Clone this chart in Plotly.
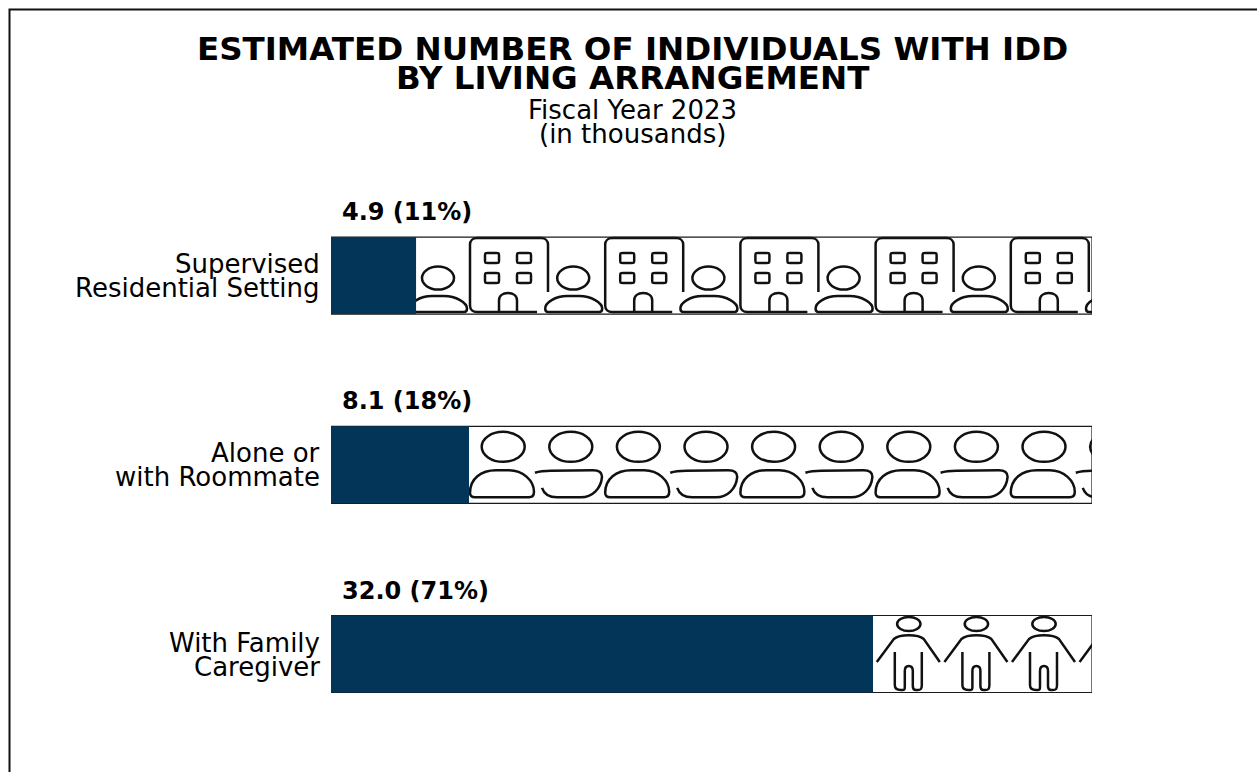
from plotly import graph_objects as go

# values in thousands, fiscal year 2023
CATEGORIES = ["Supervised Residential Setting", "Alone or with Roommate", "With Family Caregiver"]
LABEL_LINES = [["Supervised", "Residential Setting"], ["Alone or", "with Roommate"], ["With Family", "Caregiver"]]
VALUES = [4.9, 8.1, 32.0]
PERCENTS = [11, 18, 71]
# filled lengths as they measure on the picture, the printed labels are rounded
FILLED = [5.03, 8.16, 32.05]
TOTAL = 45.0

TITLE_LINES = ["ESTIMATED NUMBER OF INDIVIDUALS WITH IDD", "BY LIVING ARRANGEMENT"]
SUBTITLE_LINES = ["Fiscal Year 2023", "(in thousands)"]

WIDTH, HEIGHT = 1257, 772
NAVY = "#023558"
FONT = "DejaVu Sans"
PERIOD = 135.2
STROKE = dict(color="#111111", width=2.5)


# icon outlines, pixels right of the bar start and below the bar centre
BUILDING = "M217 16.5 L217 -31 C217 -35 214 -37.5 210 -37.5 L146 -37.5 C142 -37.5 139 -35 139 -31 L139 30 C139 34 142 36.5 146 36.5 L206 36.5"
DOOR = "M168 36.5 L168 25 C168 20 172 17.5 177 17.5 C182 17.5 186 20 186 25 L186 36.5"
SMALL_BODY = "M79 33 C79 27 89 20.5 101 20.5 L113 20.5 C125 20.5 136 27 136 33 C136 35.5 135 36.5 133 36.5 L82 36.5 C80 36.5 79 35 79 33 Z"
DOME = "M139 28 C139 14 150 5.5 165 5.5 L178 5.5 C192 5.5 203 16 203 27 C203 31 201 32.5 198 32.5 L144 32.5 C141 32.5 139 31 139 28 Z"
OPEN_BODY = "M204 8 C210 6 215 6 220 6 L262 5.5 C268 5.5 271 8 271 12 C270 24 261 32.5 250 32.5 L226 32.5 C218 32.5 213 29 211 23"
FIGURE = (
    "M5 8 L22 -15 C28 -20 46 -20 52 -15 L68 8 "
    "M23 -2 L23 31 C23 35 26 36 29 36 L31 36 C33 36 33 35 33 32 L33 17 C33 13 35 12 37 12 "
    "C39 12 41 13 41 17 L41 32 C41 35 42 36 44 36 L46 36 C49 36 50 35 50 31 L50 -2"
)


def flip_path(path, dx):
    """Shift a path right by dx and turn its y offsets up-positive for pixel sizing."""
    out = []
    is_x = True
    for tok in path.split():
        cmd = ""
        if tok[0].isalpha():
            cmd, tok = tok[0], tok[1:]
            is_x = True
            if not tok:
                out.append(cmd)
                continue
        num = float(tok)
        out.append(f"{cmd}{num + dx:.1f}" if is_x else f"{cmd}{-num:.1f}")
        is_x = not is_x
    return " ".join(out)


def add_outline(fig, row, path, dx=0):
    fig.add_shape(
        type="path",
        path=flip_path(path, dx),
        xref="x",
        yref="y",
        xsizemode="pixel",
        ysizemode="pixel",
        xanchor=0,
        yanchor=row,
        layer="between",
        line=STROKE,
    )


def add_ellipse(fig, row, cx, cy, rx, ry):
    fig.add_shape(
        type="circle",
        xref="x",
        yref="y",
        xsizemode="pixel",
        ysizemode="pixel",
        xanchor=0,
        yanchor=row,
        x0=cx - rx,
        x1=cx + rx,
        y0=-cy - ry,
        y1=-cy + ry,
        layer="between",
        line=STROKE,
    )


def add_window(fig, row, x, y, size=14, h=10, r=3):
    path = (
        f"M{x + r} {y} L{x + size - r} {y} C{x + size} {y} {x + size} {y} {x + size} {y + r} "
        f"L{x + size} {y + h - r} C{x + size} {y + h} {x + size} {y + h} {x + size - r} {y + h} "
        f"L{x + r} {y + h} C{x} {y + h} {x} {y + h} {x} {y + h - r} "
        f"L{x} {y + r} C{x} {y} {x} {y} {x + r} {y} Z"
    )
    add_outline(fig, row, path)


fig = go.Figure()

# top row: buildings and people
for k in range(6):
    dx = k * PERIOD
    add_outline(fig, CATEGORIES[0], BUILDING, dx)
    add_outline(fig, CATEGORIES[0], DOOR, dx)
    add_outline(fig, CATEGORIES[0], SMALL_BODY, dx)
    add_ellipse(fig, CATEGORIES[0], 107 + dx, 2.5, 16, 11.5)
    for wx in (154, 186):
        for wy in (-22.5, -2.5):
            add_window(fig, CATEGORIES[0], wx + dx, wy)

# middle row: people, every other body drawn open
for k in range(13):
    dx = k * PERIOD / 2
    add_ellipse(fig, CATEGORIES[1], 37 + dx, -18, 21.5, 15)
for k in range(-1, 6):
    add_outline(fig, CATEGORIES[1], DOME, k * PERIOD)
    add_outline(fig, CATEGORIES[1], OPEN_BODY, k * PERIOD)

# bottom row: standing figures
for k in range(12):
    dx = k * PERIOD / 2
    add_ellipse(fig, CATEGORIES[2], 37 + dx, -30, 11.7, 7)
    add_outline(fig, CATEGORIES[2], FIGURE, dx)

fig.add_trace(
    go.Bar(
        x=[TOTAL] * len(CATEGORIES),
        y=CATEGORIES,
        orientation="h",
        width=0.407,
        marker=dict(color="rgba(0,0,0,0)", line=dict(color="#1a1a1a", width=1.2)),
        cliponaxis=False,
        hoverinfo="skip",
    )
)
fig.add_trace(
    go.Bar(
        x=FILLED,
        y=CATEGORIES,
        orientation="h",
        width=0.407,
        marker=dict(color=NAVY, line=dict(width=0)),
        customdata=VALUES,
        hovertemplate="%{y}: %{customdata}<extra></extra>",
    )
)

# frame of the page, open at the right and the bottom
left, top = 9.5 / WIDTH, 1 - 9.5 / HEIGHT
fig.add_shape(
    type="path",
    path=f"M{left} 0 L{left} {top} L1 {top}",
    xref="paper",
    yref="paper",
    line=dict(color="#111111", width=2),
)

annotations = []
for text, py in zip(TITLE_LINES, [49, 78]):
    annotations.append(
        dict(text=f"<b>{text}</b>", x=632 / WIDTH, y=1 - py / HEIGHT, font=dict(size=32.5))
    )
for text, py in zip(SUBTITLE_LINES, [110, 134]):
    annotations.append(dict(text=text, x=632 / WIDTH, y=1 - py / HEIGHT, font=dict(size=26)))
for cat, value, pct in zip(CATEGORIES, VALUES, PERCENTS):
    annotations.append(
        dict(
            text=f"<b>{value:.1f} ({pct}%)</b>",
            xref="x",
            yref="y",
            x=0,
            y=cat,
            xanchor="left",
            xshift=9,
            yshift=63.5,
            font=dict(size=24),
        )
    )
for cat, lines in zip(CATEGORIES, LABEL_LINES):
    for line, shift in zip(lines, [11.5, -12.5]):
        annotations.append(
            dict(
                text=line,
                xref="x",
                yref="y",
                x=0,
                y=cat,
                xanchor="right",
                xshift=-9,
                yshift=shift,
                font=dict(size=26),
            )
        )

for ann in annotations:
    ann.setdefault("xref", "paper")
    ann.setdefault("yref", "paper")
    ann.setdefault("yanchor", "middle")
    ann["showarrow"] = False

fig.update_layout(
    width=WIDTH,
    height=HEIGHT,
    margin=dict(l=0, r=0, t=0, b=0),
    barmode="overlay",
    showlegend=False,
    plot_bgcolor="white",
    paper_bgcolor="white",
    font=dict(family=FONT, color="black"),
    annotations=annotations,
    xaxis=dict(
        domain=[331 / WIDTH, 1092 / WIDTH],
        range=[0, TOTAL],
        visible=False,
    ),
    yaxis=dict(
        domain=[1 - 748.6 / HEIGHT, 1 - 181 / HEIGHT],
        categoryorder="array",
        categoryarray=CATEGORIES,
        range=[2.5, -0.5],
        visible=False,
    ),
)

fig.write_html(
    "out.html",
    config=dict(displayModeBar=False),
    post_script="document.body.style.margin='0';",
)
